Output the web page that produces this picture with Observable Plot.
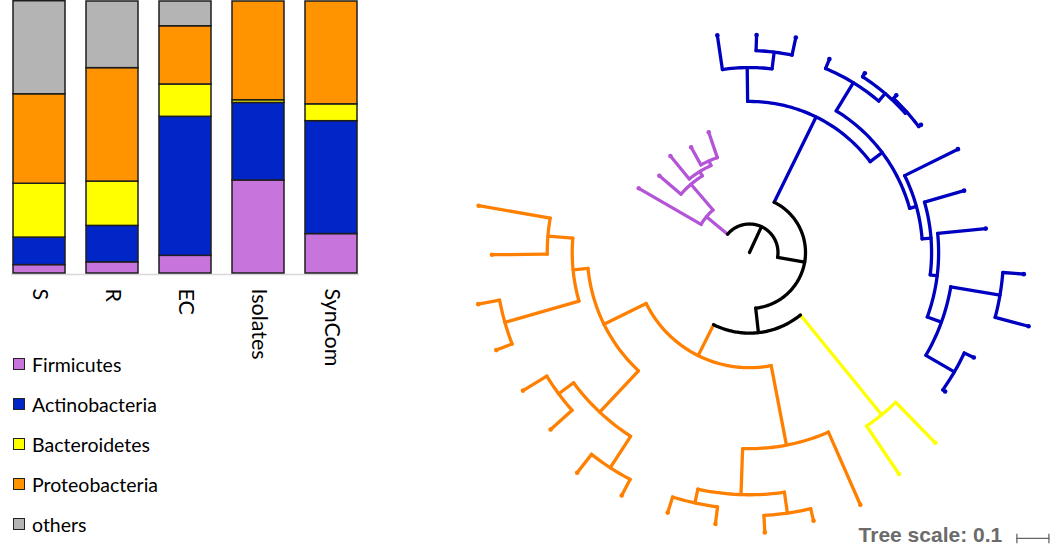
<!DOCTYPE html>
<html><head><meta charset="utf-8">
<script src="https://cdn.jsdelivr.net/npm/d3@7"></script>
<script src="https://cdn.jsdelivr.net/npm/@observablehq/plot@0.6"></script>
<style>
body{margin:0;background:#fff;width:1050px;height:545px;overflow:hidden;position:relative;font-family:Lato,sans-serif}
#bars{position:absolute;left:0;top:0}
#tree{position:absolute;left:380px;top:0}
#legend{position:absolute;left:0;top:0}
.item{position:absolute;left:13px;height:24px;display:flex;align-items:center;white-space:nowrap;font-size:19.5px;color:#000}
.sw{width:10px;height:10px;border:1px solid #222;margin-right:7px;flex:none}
</style></head><body>
<div id="bars"></div><div id="tree"></div><div id="legend"></div>
<script>
// ---- stacked bar data (percent) ----
const samples = ["S","R","EC","Isolates","SynCom"];
const phyla = ["Firmicutes","Actinobacteria","Bacteroidetes","Proteobacteria","others"];
const phylumColors = ["#c774dd","#0026c8","#ffff00","#ff9400","#b4b4b4"];
const firmicutes     = [3.1, 4.1, 6.5, 34.2, 14.5];
const actinobacteria = [10.1, 13.4, 51.1, 28.5, 41.5];
const bacteroidetes  = [19.8, 16.3, 11.9, 1.0, 6.2];
const proteobacteria = [32.9, 41.7, 21.4, 36.3, 37.8];
const others         = [34.2, 24.5, 9.1, 0, 0];

// ---- tree data: [node, parent, branch length, clade] in leaf order ----
const treeNodes = [
 ["root", null, 0, "core"],
 ["N1","root",0.089,"core"],
 ["P1","N1",0.086,"Firmicutes"],
 ["p1","P1",0.225,"Firmicutes"],
 ["P2","P1",0.106,"Firmicutes"],
 ["p2","P2",0.089,"Firmicutes"],
 ["P3","P2",0.016,"Firmicutes"],
 ["p3","P3",0.093,"Firmicutes"],
 ["P4","P3",0.016,"Firmicutes"],
 ["p4","P4",0.063,"Firmicutes"],
 ["p5","P4",0.084,"Firmicutes"],
 ["N2","N1",0.086,"core"],
 ["B0","N2",0.297,"Actinobacteria"],
 ["BA1","B0",0.106,"Actinobacteria"],
 ["b1","BA1",0.108,"Actinobacteria"],
 ["BA2","BA1",0.053,"Actinobacteria"],
 ["b2","BA2",0.049,"Actinobacteria"],
 ["b3","BA2",0.056,"Actinobacteria"],
 ["BB","B0",0.047,"Actinobacteria"],
 ["BC1","BB",0.103,"Actinobacteria"],
 ["b4","BC1",0.032,"Actinobacteria"],
 ["BC2","BC1",0.031,"Actinobacteria"],
 ["b5","BC2",0.013,"Actinobacteria"],
 ["BC3","BC2",0.006,"Actinobacteria"],
 ["b6","BC3",0.013,"Actinobacteria"],
 ["b7","BC3",0.009,"Actinobacteria"],
 ["BD1","BB",0.022,"Actinobacteria"],
 ["b8","BD1",0.186,"Actinobacteria"],
 ["BD2","BD1",0.028,"Actinobacteria"],
 ["b9","BD2",0.129,"Actinobacteria"],
 ["BD3","BD2",0.022,"Actinobacteria"],
 ["b10","BD3",0.151,"Actinobacteria"],
 ["BD4","BD3",0.047,"Actinobacteria"],
 ["BE","BD4",0.156,"Actinobacteria"],
 ["b11","BE",0.066,"Actinobacteria"],
 ["b12","BE",0.108,"Actinobacteria"],
 ["BF","BD4",0.103,"Actinobacteria"],
 ["b13","BF",0.033,"Actinobacteria"],
 ["b14","BF",0.009,"Actinobacteria"],
 ["N3","N2",0.077,"core"],
 ["Y","N3",0.402,"Bacteroidetes"],
 ["y1","Y",0.177,"Bacteroidetes"],
 ["y2","Y",0.181,"Bacteroidetes"],
 ["O","N3",0.108,"Proteobacteria"],
 ["OA","O",0.253,"Proteobacteria"],
 ["o1","OA",0.248,"Proteobacteria"],
 ["OA1","OA",0.144,"Proteobacteria"],
 ["OA2","OA1",0.066,"Proteobacteria"],
 ["o2","OA2",0.039,"Proteobacteria"],
 ["o3","OA2",0.053,"Proteobacteria"],
 ["OA3","OA1",0.044,"Proteobacteria"],
 ["o4","OA3",0.054,"Proteobacteria"],
 ["o5","OA3",0.051,"Proteobacteria"],
 ["OB","O",0.147,"Proteobacteria"],
 ["OC","OB",0.177,"Proteobacteria"],
 ["OC1","OC",0.117,"Proteobacteria"],
 ["o6","OC1",0.057,"Proteobacteria"],
 ["o7","OC1",0.073,"Proteobacteria"],
 ["OC2","OC",0.058,"Proteobacteria"],
 ["o8","OC2",0.090,"Proteobacteria"],
 ["o9","OC2",0.087,"Proteobacteria"],
 ["OD","OB",0.047,"Proteobacteria"],
 ["ODa","OD",0.241,"Proteobacteria"],
 ["o10","ODa",0.053,"Proteobacteria"],
 ["o11","ODa",0.068,"Proteobacteria"],
 ["ODb","OD",0.078,"Proteobacteria"],
 ["o12","ODb",0.173,"Proteobacteria"],
 ["o13","ODb",0.227,"Proteobacteria"]
];
const treeClades = ["core","Firmicutes","Actinobacteria","Bacteroidetes","Proteobacteria"];
const treeColors = ["#000000","#b455d8","#0000c0","#ffff00","#ff8000"];
const treeScale = 0.1;

// ---------------- bar chart ----------------
const seriesValues = [firmicutes, actinobacteria, bacteroidetes, proteobacteria, others];
const barData = samples.flatMap((s, i) => phyla.map((p, j) => ({sample: s, phylum: p, value: seriesValues[j][i]})))
  .filter(d => d.value > 0);

const bars = Plot.plot({
  width: 370, height: 380,
  marginLeft: 11, marginRight: 11, marginTop: 1, marginBottom: 107,
  style: {fontFamily: "Lato, sans-serif", background: "transparent"},
  x: {domain: samples, paddingInner: 0.288, paddingOuter: 0, axis: null},
  y: {domain: [0, 100], axis: null},
  color: {domain: phyla, range: phylumColors},
  marks: [
    Plot.ruleY([0], {stroke: "#d8d8d8", strokeWidth: 1.5, dy: 1}),
    Plot.barY(barData, {x: "sample", y: "value", fill: "phylum", stroke: "#1e1e1e", strokeWidth: 1.5}),
    Plot.text(samples, {x: d => d, y: 0, text: d => d, rotate: 90, textAnchor: "start", lineAnchor: "middle", dy: 15, fontSize: 21.5, fill: "#000"})
  ]
});
document.getElementById("bars").appendChild(bars);

// legend
const legend = document.getElementById("legend");
phyla.forEach((p, i) => {
  const it = document.createElement("div");
  it.className = "item";
  it.style.top = (352 + i * 40) + "px";
  it.innerHTML = `<span class="sw" style="background:${phylumColors[i]}"></span><span>${p}</span>`;
  legend.appendChild(it);
});

// ---------------- circular tree ----------------
const leafStart = 210.1, leafArc = 350;
const nodes = new Map();
for (const [id, parent, len, clade] of treeNodes) nodes.set(id, {id, parent, len, clade, children: []});
for (const n of nodes.values()) if (n.parent) nodes.get(n.parent).children.push(n);
const leafCount = [...nodes.values()].filter(n => !n.children.length).length;
const leafStep = leafArc / leafCount;
let leafIndex = 0;
function layout(n, r0) {
  n.r = r0 + n.len;
  if (!n.children.length) n.a = leafStart + leafIndex++ * leafStep;
  else { n.children.forEach(c => layout(c, n.r)); n.a = (n.children[0].a + n.children[n.children.length - 1].a) / 2; }
}
layout(nodes.get("root"), 0);

const deg = Math.PI / 180;
const colorOf = c => treeColors[treeClades.indexOf(c)];
const pts = [];
let sid = 0;
function pushSeg(list, clade) {
  const id = sid++;
  for (const [r, a] of list) pts.push({id, clade, x: r * Math.cos(a * deg), y: r * Math.sin(a * deg), color: colorOf(clade)});
}
for (const n of nodes.values()) {
  if (n.parent) pushSeg([[nodes.get(n.parent).r, n.a], [n.r, n.a]], n.clade);
  if (n.children.length > 1) {
    const a0 = n.children[0].a, a1 = n.children[n.children.length - 1].a;
    const k = Math.max(2, Math.ceil(Math.abs(a1 - a0)));
    pushSeg(d3.range(k + 1).map(i => [n.r, a0 + (a1 - a0) * i / k]), n.clade);
  }
}
const cladePts = pts.filter(d => d.clade !== "core");
const corePts = pts.filter(d => d.clade === "core");
const tips = [...nodes.values()].filter(n => !n.children.length)
  .map(n => ({x: n.r * Math.cos(n.a * deg), y: n.r * Math.sin(n.a * deg), color: colorOf(n.clade)}));

const pxPerUnit = 320, cx = 369, cy = 252, tw = 670, th = 545;
const xDom = [-cx / pxPerUnit, (tw - cx) / pxPerUnit];
const yDom = [-cy / pxPerUnit, (th - cy) / pxPerUnit];
const barX1 = xDom[1] - 0.005, barX0 = barX1 - treeScale, barY = yDom[1] - 0.022;

const tree = Plot.plot({
  width: tw, height: th, margin: 0,
  style: {background: "transparent"},
  x: {domain: xDom, range: [0, tw], axis: null},
  y: {domain: yDom, range: [0, th], axis: null},
  color: {type: "identity"},
  r: {type: "identity"},
  marks: [
    Plot.line(cladePts, {x: "x", y: "y", z: "id", stroke: "color", strokeWidth: 3.3, strokeLinecap: "round", strokeLinejoin: "round"}),
    Plot.dot(tips, {x: "x", y: "y", fill: "color", r: 2.3}),
    Plot.line(corePts, {x: "x", y: "y", z: "id", stroke: "color", strokeWidth: 3.3, strokeLinecap: "round", strokeLinejoin: "round"}),
    Plot.line([[barX0, barY], [barX1, barY]], {stroke: "#666", strokeWidth: 1.3}),
    Plot.link([barX0, barX1], {x1: d => d, x2: d => d, y1: barY - 0.015, y2: barY + 0.015, stroke: "#666", strokeWidth: 1.3}),
    Plot.text([`Tree scale: ${treeScale}`], {x: barX0 - 0.046, y: barY, text: d => d, textAnchor: "end", lineAnchor: "middle", dy: -3,
      fontSize: 21, fontWeight: "bold", fill: "#6b6b6b", fontFamily: "Liberation Sans, Arial, sans-serif"})
  ]
});
document.getElementById("tree").appendChild(tree);
</script>
</body></html>
